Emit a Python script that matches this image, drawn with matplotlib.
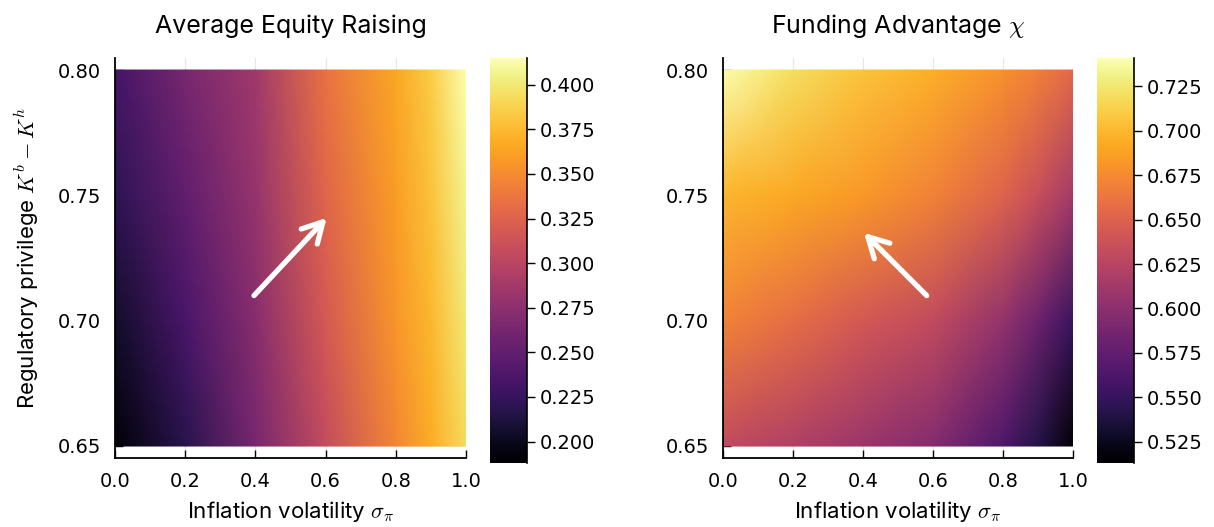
import numpy as np
import matplotlib
matplotlib.use("Agg")
import matplotlib.pyplot as plt
from matplotlib.colors import ListedColormap, rgb_to_hsv, hsv_to_rgb

plt.rcParams['mathtext.fontset'] = 'cm'

sigma_pi = np.array([0.0, 0.2, 0.4, 0.6, 0.8, 0.9, 1.0])
privilege = np.array([0.65, 0.70, 0.75, 0.80])

# average equity raising, rows = privilege, cols = sigma_pi
equity = np.array([
    [0.190, 0.218, 0.263, 0.306, 0.347, 0.368, 0.392],
    [0.205, 0.235, 0.272, 0.318, 0.355, 0.374, 0.400],
    [0.220, 0.250, 0.280, 0.327, 0.360, 0.379, 0.407],
    [0.233, 0.263, 0.286, 0.335, 0.365, 0.384, 0.415],
])

# funding advantage chi
chi = np.array([
    [0.631, 0.620, 0.608, 0.595, 0.563, 0.541, 0.513],
    [0.670, 0.658, 0.643, 0.631, 0.604, 0.582, 0.552],
    [0.699, 0.692, 0.683, 0.670, 0.651, 0.635, 0.613],
    [0.740, 0.720, 0.706, 0.695, 0.679, 0.668, 0.654],
])

equity_ticks = [0.200, 0.225, 0.250, 0.275, 0.300, 0.325, 0.350, 0.375, 0.400]
chi_ticks = [0.525, 0.550, 0.575, 0.600, 0.625, 0.650, 0.675, 0.700, 0.725]
x_ticks = [0.0, 0.2, 0.4, 0.6, 0.8, 1.0]
y_ticks = [0.65, 0.70, 0.75, 0.80]

# arrows (start, tip) in data units
arrow_left = [(0.396, 0.710), (0.603, 0.741)]
arrow_right = [(0.582, 0.710), (0.403, 0.735)]

# inferno, a touch less saturated like the original render
base = plt.get_cmap('inferno')(np.linspace(0, 1, 256))[:, :3]
hsv = rgb_to_hsv(base)
hsv[:, 1] *= 0.88
cmap = ListedColormap(hsv_to_rgb(hsv))

W, H = 1214, 527
fig = plt.figure(figsize=(W / 100, H / 100), dpi=100)


def px(x0, y0, x1, y1):
    return [x0 / W, 1 - y1 / H, (x1 - x0) / W, (y1 - y0) / H]


panels = [
    dict(z=equity, title='Average Equity Raising', ticks=equity_ticks,
         clim=(0.188, 0.415), ax=px(115, 58, 466, 458), cax=px(490, 58, 527, 463),
         arrow=arrow_left, ylabel=True),
    dict(z=chi, title=r'Funding Advantage $\chi$', ticks=chi_ticks,
         clim=(0.513, 0.741), ax=px(723, 58, 1073, 458), cax=px(1097, 58, 1134, 463),
         arrow=arrow_right, ylabel=False),
]

for p in panels:
    ax = fig.add_axes(p['ax'])
    mesh = ax.pcolormesh(sigma_pi, privilege, p['z'], shading='gouraud',
                         cmap=cmap, vmin=p['clim'][0], vmax=p['clim'][1])
    ax.set_xlim(0, 1)
    ax.set_ylim(0.6452, 0.8048)
    ax.set_xticks(x_ticks)
    ax.set_yticks(y_ticks)
    ax.set_xticklabels([f'{v:.1f}' for v in x_ticks])
    ax.set_yticklabels([f'{v:.2f}' for v in y_ticks])
    ax.tick_params(direction='in', length=6, width=1, labelsize=14, pad=10)
    ax.grid(True, color='#e6e6e6', lw=0.8)
    ax.set_axisbelow(True)
    for s in ['top', 'right']:
        ax.spines[s].set_visible(False)
    for s in ['left', 'bottom']:
        ax.spines[s].set_linewidth(1.3)

    ax.set_title(p['title'], family='Inter', fontsize=18, pad=18)
    ax.set_xlabel(r'Inflation volatility $\sigma_\pi$', family='Inter', fontsize=16, labelpad=6)
    if p['ylabel']:
        ax.set_ylabel(r'Regulatory privilege $K^b - K^h$', family='Inter', fontsize=16, labelpad=12)

    (x0, y0), (x1, y1) = p['arrow']
    ax.annotate('', xy=(x1, y1), xytext=(x0, y0),
                arrowprops=dict(arrowstyle='->,head_length=0.4,head_width=0.22',
                                color='white', lw=3.8, mutation_scale=36,
                                shrinkA=0, shrinkB=0, capstyle='round'))

    cax = fig.add_axes(p['cax'])
    cb = fig.colorbar(mesh, cax=cax)
    cb.outline.set_visible(False)
    cax.spines['right'].set_visible(True)
    cax.spines['right'].set_linewidth(1.2)
    cb.set_ticks(p['ticks'])
    cb.set_ticklabels([f'{v:.3f}' for v in p['ticks']])
    cax.tick_params(labelsize=14, length=6, width=1, pad=3)

fig.savefig('out.png', dpi=100)
